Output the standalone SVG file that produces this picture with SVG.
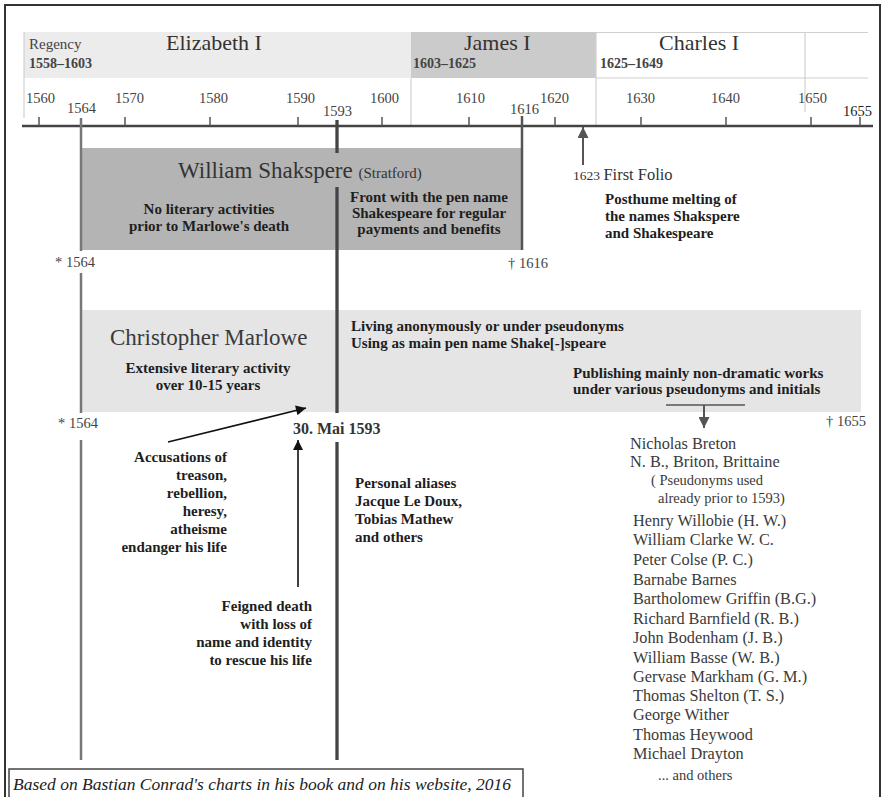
<svg xmlns="http://www.w3.org/2000/svg" width="886" height="797" viewBox="0 0 886 797">
<style>
text{font-family:"Liberation Serif","Times New Roman",serif;}
.yr{font-size:14.5px;fill:#444;}
.ttl{font-size:22px;fill:#333;}
.sub{font-size:14px;fill:#444;font-weight:bold;}
.b{font-size:15px;font-weight:bold;fill:#1e1e1e;}
.nm{font-size:16.3px;fill:#3a3a3a;}
.nms{font-size:14.5px;fill:#3a3a3a;}
.tick{stroke:#555;stroke-width:1.5;}
.div{stroke:#d0d0d0;stroke-width:1.2;}
</style>
<defs>
<marker id="ahK" viewBox="0 0 10 10" refX="10" refY="5" markerWidth="11" markerHeight="10" markerUnits="userSpaceOnUse" orient="auto"><path d="M0,0 L10,5 L0,10 z" fill="#111"/></marker>
<marker id="ahG" viewBox="0 0 10 10" refX="10" refY="5" markerWidth="12" markerHeight="11" markerUnits="userSpaceOnUse" orient="auto"><path d="M0,0 L10,5 L0,10 z" fill="#555"/></marker>
</defs>
<rect x="0" y="0" width="886" height="797" fill="#fff"/>
<rect x="5" y="5" width="875" height="800" fill="#fff" stroke="#333" stroke-width="2"/>

<g id="header-elizabeth">
<rect x="24" y="32" width="387" height="46" fill="#ececec"/>
<text x="29" y="49" style="font-size:15px;fill:#444">Regency</text>
<text x="29" y="68" class="sub">1558–1603</text>
<text x="166" y="50" class="ttl">Elizabeth I</text>
</g>
<g id="header-james">
<rect x="411" y="32" width="185" height="46" fill="#cbcbcb"/>
<text x="464" y="50" class="ttl">James I</text>
<text x="413" y="68" class="sub">1603–1625</text>
</g>
<g id="header-charles">
<line x1="596" y1="32.5" x2="868" y2="32.5" class="div"/>
<line x1="596" y1="78" x2="868" y2="78" class="div"/>
<text x="659" y="50" class="ttl">Charles I</text>
<text x="600" y="68" class="sub">1625–1649</text>
</g>

<g id="axis">
<line x1="24" y1="32" x2="24" y2="118" class="div"/>
<line x1="411" y1="78" x2="411" y2="126" class="div"/>
<line x1="596" y1="32" x2="596" y2="126" class="div"/>
<line x1="805" y1="32" x2="805" y2="112" class="div"/>
<line x1="22" y1="126" x2="873" y2="126" stroke="#444" stroke-width="2.5"/>
<line x1="39" y1="117" x2="39" y2="126" class="tick"/>
<line x1="125" y1="117" x2="125" y2="126" class="tick"/>
<line x1="210" y1="117" x2="210" y2="126" class="tick"/>
<line x1="298" y1="117" x2="298" y2="126" class="tick"/>
<line x1="382" y1="117" x2="382" y2="126" class="tick"/>
<line x1="469" y1="117" x2="469" y2="126" class="tick"/>
<line x1="555" y1="117" x2="555" y2="126" class="tick"/>
<line x1="641" y1="117" x2="641" y2="126" class="tick"/>
<line x1="726" y1="117" x2="726" y2="126" class="tick"/>
<line x1="811" y1="117" x2="811" y2="126" class="tick"/>
<line x1="860" y1="117" x2="860" y2="126" class="tick"/>
<text x="26" y="103" class="yr">1560</text>
<text x="67" y="113" class="yr">1564</text>
<text x="115" y="103" class="yr">1570</text>
<text x="199" y="103" class="yr">1580</text>
<text x="286" y="103" class="yr">1590</text>
<text x="323" y="116" class="yr">1593</text>
<text x="370" y="103" class="yr">1600</text>
<text x="456" y="103" class="yr">1610</text>
<text x="510" y="114" class="yr">1616</text>
<text x="540" y="103" class="yr">1620</text>
<text x="626" y="103" class="yr">1630</text>
<text x="711" y="103" class="yr">1640</text>
<text x="798" y="103" class="yr">1650</text>
<text x="843" y="116" class="yr" style="fill:#222">1655</text>
</g>

<g id="shakspere">
<rect x="81" y="148" width="441" height="102" fill="#b4b4b4"/>
<text x="178" y="178" style="font-size:23px;fill:#333">William Shakspere <tspan style="font-size:15px">(Stratford)</tspan></text>
<text x="209" y="214" class="b" text-anchor="middle">No literary activities</text>
<text x="209" y="231" class="b" text-anchor="middle">prior to Marlowe's death</text>
<text x="429" y="202" class="b" text-anchor="middle">Front with the pen name</text>
<text x="429" y="218" class="b" text-anchor="middle">Shakespeare for regular</text>
<text x="429" y="234" class="b" text-anchor="middle">payments and benefits</text>
<text x="55" y="267" style="font-size:14.5px;fill:#444">* 1564</text>
<text x="508" y="268" style="font-size:14.5px;fill:#444">† 1616</text>
</g>

<g id="first-folio">
<text x="573" y="180" style="fill:#333"><tspan style="font-size:13.5px">1623 </tspan><tspan style="font-size:16.5px">First Folio</tspan></text>
<text x="605" y="204" class="b">Posthume melting of</text>
<text x="605" y="221" class="b">the names Shakspere</text>
<text x="605" y="238" class="b">and Shakespeare</text>
</g>

<g id="marlowe">
<rect x="81" y="310" width="780" height="102" fill="#e5e5e5"/>
<text x="110" y="345" style="font-size:23px;fill:#3a3a3a">Christopher Marlowe</text>
<text x="208" y="373" class="b" text-anchor="middle">Extensive literary activity</text>
<text x="208" y="390" class="b" text-anchor="middle">over 10-15 years</text>
<text x="351" y="331" class="b">Living anonymously or under pseudonyms</text>
<text x="351" y="348" class="b">Using as main pen name Shake[-]speare</text>
<text x="573" y="378" class="b">Publishing mainly non-dramatic works</text>
<text x="573" y="394" class="b">under various pseudonyms and initials</text>
<text x="58" y="428" style="font-size:14.5px;fill:#444">* 1564</text>
<text x="826" y="426" style="font-size:14.5px;fill:#444">† 1655</text>
<text x="293" y="434" class="b" style="fill:#333;font-size:16px">30. Mai 1593</text>
</g>

<g id="lifelines">
<line x1="81" y1="118" x2="81" y2="251" stroke="#777" stroke-width="2.5"/>
<line x1="81" y1="273" x2="81" y2="413" stroke="#777" stroke-width="2.5"/>
<line x1="81" y1="440" x2="81" y2="760" stroke="#777" stroke-width="2.5"/>
<line x1="337" y1="120" x2="337" y2="153" stroke="#444" stroke-width="3.3"/>
<line x1="337" y1="187" x2="337" y2="413" stroke="#444" stroke-width="3.3"/>
<line x1="337" y1="442" x2="337" y2="760" stroke="#444" stroke-width="3.3"/>
<line x1="522" y1="116" x2="522" y2="250" stroke="#555" stroke-width="2.5"/>
</g>

<g id="accusations">
<text x="227" y="462" class="b" text-anchor="end">Accusations of</text>
<text x="227" y="480" class="b" text-anchor="end">treason,</text>
<text x="227" y="498" class="b" text-anchor="end">rebellion,</text>
<text x="227" y="516" class="b" text-anchor="end">heresy,</text>
<text x="227" y="534" class="b" text-anchor="end">atheisme</text>
<text x="227" y="552" class="b" text-anchor="end">endanger his life</text>
</g>

<g id="aliases">
<text x="355" y="488" class="b">Personal aliases</text>
<text x="355" y="506" class="b">Jacque Le Doux,</text>
<text x="355" y="524" class="b">Tobias Mathew</text>
<text x="355" y="542" class="b">and others</text>
</g>

<g id="feigned">
<text x="312" y="611" class="b" text-anchor="end">Feigned death</text>
<text x="312" y="629" class="b" text-anchor="end">with loss of</text>
<text x="312" y="647" class="b" text-anchor="end">name and identity</text>
<text x="312" y="665" class="b" text-anchor="end">to rescue his life</text>
</g>

<g id="pseudonyms">
<text x="630" y="449" class="nm">Nicholas Breton</text>
<text x="630" y="467" class="nm">N. B., Briton, Brittaine</text>
<text x="651" y="485" class="nms">( Pseudonyms used</text>
<text x="658" y="503" class="nms">already prior to 1593)</text>
<text x="633" y="526" class="nm">Henry Willobie (H. W.)</text>
<text x="633" y="545" class="nm">William Clarke W. C.</text>
<text x="633" y="565" class="nm">Peter Colse (P. C.)</text>
<text x="633" y="585" class="nm">Barnabe Barnes</text>
<text x="633" y="604" class="nm">Bartholomew Griffin (B.G.)</text>
<text x="633" y="624" class="nm">Richard Barnfield (R. B.)</text>
<text x="633" y="643" class="nm">John Bodenham (J. B.)</text>
<text x="633" y="663" class="nm">William Basse (W. B.)</text>
<text x="633" y="682" class="nm">Gervase Markham (G. M.)</text>
<text x="633" y="701" class="nm">Thomas Shelton (T. S.)</text>
<text x="633" y="720" class="nm">George Wither</text>
<text x="633" y="740" class="nm">Thomas Heywood</text>
<text x="633" y="759" class="nm">Michael Drayton</text>
<text x="658" y="780" class="nms">... and others</text>
</g>

<g id="connectors">
<line x1="583" y1="165" x2="583" y2="127" stroke="#555" stroke-width="2" marker-end="url(#ahG)"/>
<line x1="168" y1="442" x2="306" y2="408" stroke="#111" stroke-width="1.6" marker-end="url(#ahK)"/>
<line x1="298" y1="587" x2="298" y2="440" stroke="#111" stroke-width="1.6" marker-end="url(#ahK)"/>
<line x1="666" y1="405" x2="745" y2="405" stroke="#555" stroke-width="1.5"/>
<line x1="704" y1="405" x2="704" y2="428" stroke="#555" stroke-width="2" marker-end="url(#ahG)"/>
</g>

<g id="footer">
<rect x="9" y="769" width="514" height="40" fill="#fff" stroke="#444" stroke-width="1.5"/>
<text x="13" y="790" style="font-size:17.5px;font-style:italic;fill:#222">Based on Bastian Conrad's charts in his book and on his website, 2016</text>
</g>
</svg>
